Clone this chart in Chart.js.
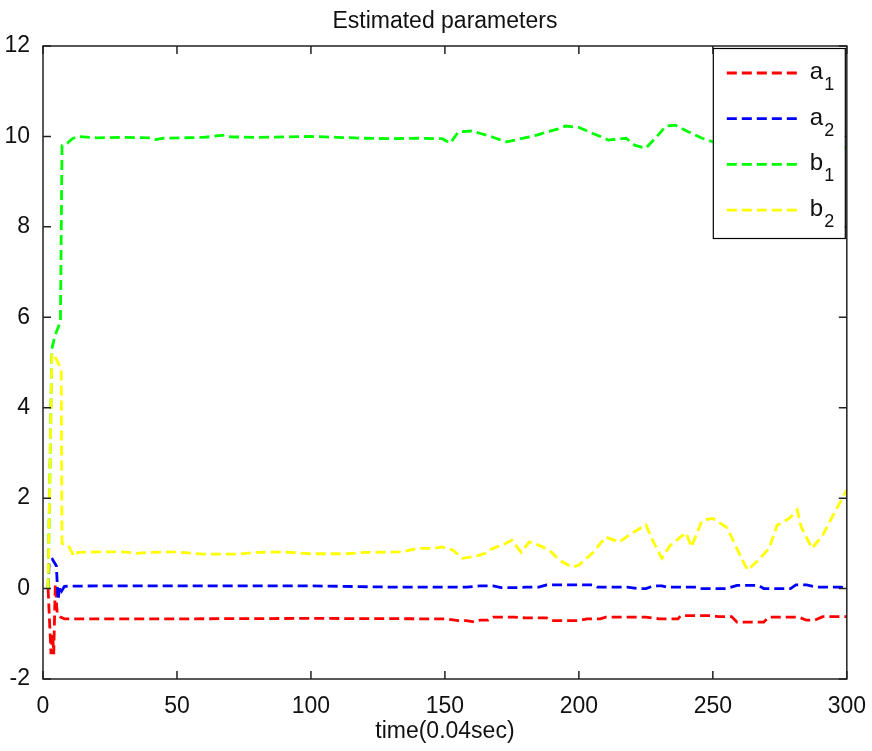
<!DOCTYPE html>
<html>
<head>
<meta charset="utf-8">
<title>Estimated parameters</title>
<script src="https://cdn.jsdelivr.net/npm/chart.js@4.4.1/dist/chart.umd.min.js"></script>
<style>
  html, body { margin: 0; padding: 0; background: #fff; }
  #wrap { width: 872px; height: 751px; position: relative; }
</style>
</head>
<body>
<div id="wrap"><canvas id="paramChart"></canvas></div>
<script>
// time samples (units of 0.04 s) and estimated values for each parameter
const a1Time = [1.9, 2.5, 3, 3.6, 4, 4.6, 5.3, 6.5, 8, 10, 50, 100, 150, 155, 158, 161, 163, 166, 168, 176, 180, 188, 190, 200, 203, 208, 210, 225, 230, 237, 238, 250, 252, 257, 259, 269, 271, 282, 285, 288, 291, 300];
const a1Vals = [0, -0.8, -1.45, -1.0, -1.45, 0.1, -0.55, -0.63, -0.67, -0.67, -0.67, -0.66, -0.67, -0.71, -0.71, -0.74, -0.7, -0.7, -0.63, -0.63, -0.65, -0.65, -0.71, -0.71, -0.67, -0.67, -0.63, -0.63, -0.67, -0.67, -0.6, -0.6, -0.62, -0.62, -0.74, -0.74, -0.63, -0.63, -0.7, -0.7, -0.62, -0.62];

const a2Time = [1.9, 2.3, 3.5, 5, 5.6, 6.3, 7, 8, 20, 60, 100, 133, 137, 143, 158, 163, 168, 171, 177, 180, 185, 188, 205, 207, 218, 222, 225, 228, 231, 233, 244, 245, 255, 259, 267, 269, 279, 281, 285, 289, 298, 300];
const a2Vals = [0, 0.6, 0.65, 0.5, -0.25, 0.05, -0.05, 0.05, 0.06, 0.06, 0.06, 0.03, 0.03, 0.03, 0.03, 0.06, 0.06, 0.02, 0.02, 0.03, 0.03, 0.08, 0.08, 0.03, 0.03, 0.0, 0.0, 0.06, 0.06, 0.03, 0.03, 0.0, 0.0, 0.07, 0.07, 0.0, 0.0, 0.08, 0.08, 0.03, 0.03, 0.0];

const b1Time = [1.9, 3.3, 4.5, 6.5, 7.1, 9, 11, 13, 20, 30, 40, 42, 45, 60, 68, 70, 80, 100, 110, 120, 130, 140, 149, 152, 155, 160, 163, 166, 169, 173, 177, 181.5, 185, 188, 192, 195, 200, 205, 208, 211, 214, 217.6, 221, 225, 229, 232.5, 236, 241, 246, 250, 255, 260, 265, 270, 275, 280, 285, 290, 295, 300];
const b1Vals = [0, 5.3, 5.6, 5.9, 9.8, 9.85, 9.95, 10.0, 9.97, 9.98, 9.97, 9.93, 9.96, 9.98, 10.03, 9.99, 9.98, 10.0, 9.98, 9.96, 9.95, 9.96, 9.95, 9.85, 10.1, 10.12, 10.07, 10.02, 9.96, 9.88, 9.93, 9.99, 10.04, 10.1, 10.16, 10.23, 10.2, 10.07, 10.0, 9.92, 9.94, 9.96, 9.8, 9.74, 9.99, 10.23, 10.25, 10.1, 9.96, 9.88, 9.95, 10.05, 10.1, 9.95, 9.85, 9.9, 9.8, 9.85, 9.8, 9.75];

const b2Time = [1.9, 3.3, 4.3, 6.8, 7.1, 9.5, 11.5, 13, 20, 30, 35, 40, 50, 60, 72, 80, 90, 100, 113, 120, 134, 140, 146, 149, 153, 156.5, 160, 163, 165, 168, 172, 175, 178.5, 181.5, 185, 189, 192.7, 197.5, 200, 205, 210, 215, 220, 225, 227.5, 231, 234, 237.5, 240, 242, 246, 250, 255, 257, 261, 263, 267, 271, 274, 278.5, 281.5, 283, 287, 291, 294.5, 298, 300];
const b2Vals = [0, 5.2, 5.15, 4.85, 1.0, 0.95, 0.72, 0.8, 0.81, 0.81, 0.78, 0.8, 0.81, 0.76, 0.76, 0.8, 0.81, 0.77, 0.77, 0.8, 0.81, 0.89, 0.89, 0.92, 0.85, 0.67, 0.7, 0.74, 0.78, 0.89, 0.98, 1.07, 0.8, 1.03, 0.96, 0.85, 0.63, 0.47, 0.52, 0.78, 1.14, 1.03, 1.23, 1.41, 1.07, 0.67, 0.95, 1.12, 1.23, 0.92, 1.51, 1.55, 1.36, 1.14, 0.63, 0.41, 0.63, 0.89, 1.4, 1.55, 1.74, 1.36, 0.89, 1.18, 1.58, 1.96, 2.18];

const seriesNames = ['a', 'a', 'b', 'b'];
const seriesSubs = ['1', '2', '1', '2'];
const seriesColors = ['#ff0000', '#0000ff', '#00ff00', '#ffff00'];

const xTicks = [0, 50, 100, 150, 200, 250, 300];
const yTicks = [-2, 0, 2, 4, 6, 8, 10, 12];

const TEXT_COLOR = '#111';
const DASH = [10, 5];
const LINE_W = 2.8;

function toPoints(ts, vs) {
    return ts.map((t, i) => ({ x: t, y: vs[i] }));
}

// frame with inward ticks on all four sides, title and boxed legend (MATLAB look)
const axesBoxPlugin = {
    id: 'axesBox',
    afterDatasetsDraw(chart) {
        const { ctx, chartArea: area, scales } = chart;
        ctx.save();
        ctx.strokeStyle = '#222';
        ctx.lineWidth = 1.5;
        ctx.strokeRect(area.left, area.top, area.right - area.left, area.bottom - area.top);
        ctx.beginPath();
        const tl = 8;
        xTicks.forEach(v => {
            const px = scales.x.getPixelForValue(v);
            ctx.moveTo(px, area.bottom); ctx.lineTo(px, area.bottom - tl);
            ctx.moveTo(px, area.top); ctx.lineTo(px, area.top + tl);
        });
        yTicks.forEach(v => {
            const py = scales.y.getPixelForValue(v);
            ctx.moveTo(area.left, py); ctx.lineTo(area.left + tl, py);
            ctx.moveTo(area.right, py); ctx.lineTo(area.right - tl, py);
        });
        ctx.stroke();
        ctx.restore();
    },
    afterDraw(chart) {
        const { ctx, chartArea: area } = chart;
        ctx.save();

        // title
        ctx.fillStyle = TEXT_COLOR;
        ctx.font = '23px "Liberation Sans", Arial, sans-serif';
        ctx.textAlign = 'center';
        ctx.textBaseline = 'alphabetic';
        ctx.fillText('Estimated parameters', (area.left + area.right) / 2, 28);

        // legend box in the upper right corner
        const bx = area.right - 134, by = area.top + 2, bw = 132, bh = 190;
        ctx.fillStyle = '#fff';
        ctx.fillRect(bx, by, bw, bh);
        ctx.strokeStyle = '#000';
        ctx.lineWidth = 1.2;
        ctx.strokeRect(bx + 0.5, by + 0.5, bw, bh);

        const rowStart = by + 25, rowGap = 45.7;
        seriesColors.forEach((col, i) => {
            const ry = rowStart + i * rowGap;
            ctx.beginPath();
            ctx.setLineDash(DASH);
            ctx.strokeStyle = col;
            ctx.lineWidth = LINE_W;
            ctx.moveTo(bx + 14, ry);
            ctx.lineTo(bx + 84, ry);
            ctx.stroke();
            ctx.setLineDash([]);

            ctx.fillStyle = TEXT_COLOR;
            ctx.textAlign = 'left';
            ctx.textBaseline = 'alphabetic';
            ctx.font = '24px "Liberation Sans", Arial, sans-serif';
            ctx.fillText(seriesNames[i], bx + 97, ry + 6);
            const w = ctx.measureText(seriesNames[i]).width;
            ctx.font = '18px "Liberation Sans", Arial, sans-serif';
            ctx.fillText(seriesSubs[i], bx + 98 + w, ry + 17);
        });
        ctx.restore();
    }
};

const tickFont = { family: '"Liberation Sans", Arial, sans-serif', size: 23 };

const ctx = document.getElementById('paramChart').getContext('2d');
new Chart(ctx, {
    type: 'line',
    data: {
        datasets: [
            { label: 'a1', data: toPoints(a1Time, a1Vals), borderColor: seriesColors[0], order: 4 },
            { label: 'a2', data: toPoints(a2Time, a2Vals), borderColor: seriesColors[1], order: 3 },
            { label: 'b1', data: toPoints(b1Time, b1Vals), borderColor: seriesColors[2], order: 2 },
            { label: 'b2', data: toPoints(b2Time, b2Vals), borderColor: seriesColors[3], order: 1 }
        ]
    },
    options: {
        responsive: true,
        maintainAspectRatio: false,
        animation: false,
        layout: { padding: { top: 46, right: 24, left: 0, bottom: 0 } },
        elements: {
            point: { radius: 0, hoverRadius: 0 },
            line: { tension: 0, borderWidth: LINE_W, borderDash: DASH, fill: false }
        },
        plugins: {
            legend: { display: false },
            title: { display: false },
            tooltip: { enabled: false }
        },
        scales: {
            x: {
                type: 'linear',
                min: 0, max: 300,
                afterBuildTicks: s => { s.ticks = xTicks.map(v => ({ value: v })); },
                afterFit: s => { s.height = 72; },
                ticks: { color: TEXT_COLOR, font: tickFont, padding: 6, maxRotation: 0 },
                grid: { display: false },
                border: { display: false },
                title: {
                    display: true,
                    text: 'time(0.04sec)',
                    color: TEXT_COLOR,
                    font: { family: '"Liberation Sans", Arial, sans-serif', size: 23 },
                    padding: { top: 0, bottom: 6 }
                }
            },
            y: {
                min: -2, max: 12,
                afterBuildTicks: s => { s.ticks = yTicks.map(v => ({ value: v })); },
                afterFit: s => { s.width = 43; },
                ticks: { color: TEXT_COLOR, font: tickFont, padding: 5 },
                grid: { display: false },
                border: { display: false }
            }
        }
    },
    plugins: [axesBoxPlugin]
});
</script>
</body>
</html>
